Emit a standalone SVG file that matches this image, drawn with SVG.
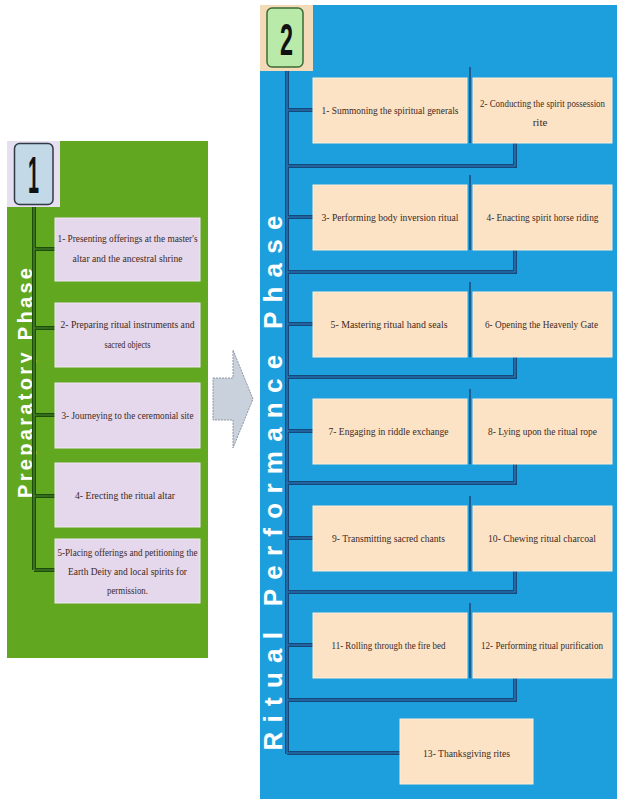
<svg xmlns="http://www.w3.org/2000/svg" width="617" height="799" viewBox="0 0 617 799">
<style>
.p1{fill:#61a71f}
.p2{fill:#1e9fdd}
.b1{fill:#e5d7ec;stroke:#f1e8f5;stroke-width:1}
.b2{fill:#fde3c6;stroke:#fbeed8;stroke-width:1}
.t{font-family:"Liberation Serif","Times New Roman",serif;font-size:11px;fill:#3b2a1e;text-anchor:middle}
.r{font-size:10px}
.s{font-size:9.5px}
.vt{font-family:"Liberation Sans",Arial,sans-serif;font-weight:bold;fill:#ffffff;text-anchor:middle}
.num{font-family:"Liberation Sans",Arial,sans-serif;font-weight:bold;fill:#111;text-anchor:middle}
.cg{stroke:#1d4d0d;stroke-width:4;fill:none}
.cgi{stroke:#4f8c2a;stroke-width:1.2;fill:none}
.cb{stroke:#16497a;stroke-width:4;fill:none}
.cbi{stroke:#2b7fc2;stroke-width:1.2;fill:none}
</style>

<!-- Panel 1 background -->
<g id="panel1">
<rect class="p1" x="7" y="141" width="201" height="517"/>
<text class="vt" font-size="20" transform="translate(31.5,383) rotate(-90)" textLength="230" lengthAdjust="spacing">Preparatory Phase</text>
</g>

<!-- Panel 2 background -->
<g id="panel2">
<rect class="p2" x="260" y="5" width="357" height="794"/>
<text class="vt" font-size="26" transform="translate(282,483) rotate(-90)" textLength="535" lengthAdjust="spacing">Ritual Performance Phase</text>
</g>

<!-- Connectors -->
<g id="connectors">
<path class="cg" d="M34 207 V570 M34 249 H55 M34 328 H55 M34 415 H55 M34 496 H55 M34 570 H55"/>
<path class="cgi" d="M34 207 V570 M34 249 H55 M34 328 H55 M34 415 H55 M34 496 H55 M34 570 H55"/>
<path class="cb" d="M287 71 V754 M287 110 H313 M287 217 H313 M287 324 H313 M287 431 H313 M287 538 H313 M287 645 H313 M287 753 H400 M515 143 V166 H287 M515 250 V272 H287 M515 357 V377 H287 M515 464 V483 H287 M515 571 V592 H287 M515 678 V700 H287"/>
<path class="cbi" d="M287 71 V754 M287 110 H313 M287 217 H313 M287 324 H313 M287 431 H313 M287 538 H313 M287 645 H313 M287 753 H400 M515 143 V166 H287 M515 250 V272 H287 M515 357 V377 H287 M515 464 V483 H287 M515 571 V592 H287 M515 678 V700 H287"/>
<path stroke="#1a5d93" stroke-width="2" fill="none" d="M470 67 V143 M470 175 V250 M470 282 V357 M470 389 V464 M470 496 V571 M470 603 V678"/>
</g>

<!-- Badges -->
<g id="badge1">
<rect x="7" y="141" width="53" height="66" fill="#e6dff0"/>
<rect x="14.5" y="143.5" width="38.5" height="61" rx="5" fill="#c3d9e7" stroke="#2f3a44" stroke-width="1.5"/>
<text class="num" x="33.5" y="193" font-size="52" textLength="11" lengthAdjust="spacingAndGlyphs">1</text>
</g>
<g id="badge2">
<rect x="260" y="5" width="53" height="66" fill="#f3dab9"/>
<rect x="267" y="8" width="36" height="59" rx="5" fill="#b9eaa9" stroke="#3d6b35" stroke-width="1.5"/>
<text class="num" x="286.5" y="55" font-size="44" textLength="13" lengthAdjust="spacingAndGlyphs">2</text>
</g>

<!-- Arrow between phases -->
<g id="arrow">
<path d="M213 378 H233 V350 L253 399 L233 448 V420 H213 Z" fill="#c9d1dc" stroke="#8d96a2" stroke-width="1" stroke-dasharray="2,1"/>
</g>

<!-- Panel 1 steps -->
<g id="p1s1"><rect class="b1" x="55" y="218" width="145" height="63"/>
<text class="t" x="127.5" y="242" textLength="140" lengthAdjust="spacingAndGlyphs">1- Presenting offerings at the master's</text>
<text class="t" x="127.5" y="262" textLength="110" lengthAdjust="spacingAndGlyphs">altar and the ancestral shrine</text></g>
<g id="p1s2"><rect class="b1" x="55" y="303" width="145" height="64"/>
<text class="t" x="127.5" y="328" textLength="134" lengthAdjust="spacingAndGlyphs">2- Preparing ritual instruments and</text>
<text class="t" x="127.5" y="348" textLength="46" lengthAdjust="spacingAndGlyphs">sacred objects</text></g>
<g id="p1s3"><rect class="b1" x="55" y="383" width="145" height="65"/>
<text class="t" x="127.5" y="419" textLength="132" lengthAdjust="spacingAndGlyphs">3- Journeying to the ceremonial site</text></g>
<g id="p1s4"><rect class="b1" x="55" y="463" width="145" height="64"/>
<text class="t" x="125" y="499" textLength="100" lengthAdjust="spacingAndGlyphs">4- Erecting the ritual altar</text></g>
<g id="p1s5"><rect class="b1" x="55" y="539" width="145" height="64"/>
<text class="t" x="127.5" y="556" textLength="140" lengthAdjust="spacingAndGlyphs">5-Placing offerings and petitioning the</text>
<text class="t" x="127.5" y="575" textLength="119" lengthAdjust="spacingAndGlyphs">Earth Deity and local spirits for</text>
<text class="t" x="127.5" y="594" textLength="41" lengthAdjust="spacingAndGlyphs">permission.</text></g>

<!-- Panel 2 steps -->
<g id="p2s1"><rect class="b2" x="313" y="78" width="154" height="65"/>
<text class="t" x="390" y="114" textLength="137" lengthAdjust="spacingAndGlyphs">1- Summoning the spiritual generals</text></g>
<g id="p2s2"><rect class="b2" x="473" y="78" width="139" height="65"/>
<text class="t s" x="542.5" y="106.5" textLength="125" lengthAdjust="spacingAndGlyphs">2- Conducting the spirit possession</text>
<text class="t" x="540" y="125.5">rite</text></g>
<g id="p2s3"><rect class="b2" x="313" y="185" width="154" height="65"/>
<text class="t" x="390" y="221" textLength="137" lengthAdjust="spacingAndGlyphs">3- Performing body inversion ritual</text></g>
<g id="p2s4"><rect class="b2" x="473" y="185" width="139" height="65"/>
<text class="t r" x="542.5" y="221" textLength="112" lengthAdjust="spacingAndGlyphs">4- Enacting spirit horse riding</text></g>
<g id="p2s5"><rect class="b2" x="313" y="292" width="154" height="65"/>
<text class="t" x="389" y="328" textLength="117" lengthAdjust="spacingAndGlyphs">5- Mastering ritual hand seals</text></g>
<g id="p2s6"><rect class="b2" x="473" y="292" width="139" height="65"/>
<text class="t r" x="541.5" y="328" textLength="113" lengthAdjust="spacingAndGlyphs">6- Opening the Heavenly Gate</text></g>
<g id="p2s7"><rect class="b2" x="313" y="399" width="154" height="65"/>
<text class="t" x="388.5" y="435" textLength="120" lengthAdjust="spacingAndGlyphs">7- Engaging in riddle exchange</text></g>
<g id="p2s8"><rect class="b2" x="473" y="399" width="139" height="65"/>
<text class="t r" x="542.5" y="435" textLength="109" lengthAdjust="spacingAndGlyphs">8- Lying upon the ritual rope</text></g>
<g id="p2s9"><rect class="b2" x="313" y="506" width="154" height="65"/>
<text class="t" x="388.5" y="542" textLength="113" lengthAdjust="spacingAndGlyphs">9- Transmitting sacred chants</text></g>
<g id="p2s10"><rect class="b2" x="473" y="506" width="139" height="65"/>
<text class="t r" x="542" y="542" textLength="108" lengthAdjust="spacingAndGlyphs">10- Chewing ritual charcoal</text></g>
<g id="p2s11"><rect class="b2" x="313" y="613" width="154" height="65"/>
<text class="t" x="388.5" y="649" textLength="114" lengthAdjust="spacingAndGlyphs">11- Rolling through the fire bed</text></g>
<g id="p2s12"><rect class="b2" x="473" y="613" width="139" height="65"/>
<text class="t r" x="542" y="649" textLength="122" lengthAdjust="spacingAndGlyphs">12- Performing ritual purification</text></g>
<g id="p2s13"><rect class="b2" x="400" y="719" width="133" height="65"/>
<text class="t" x="466.5" y="757" textLength="87" lengthAdjust="spacingAndGlyphs">13- Thanksgiving rites</text></g>
</svg>
